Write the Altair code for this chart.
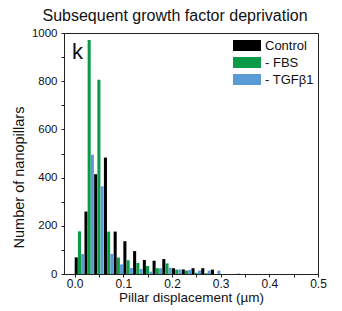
import altair as alt
import pandas as pd

bin_starts = [round(0.02 * i, 2) for i in range(17)]
series = ["Control", "- FBS", "- TGFβ1"]
control = [69, 259, 414, 483, 176, 136, 95, 58, 55, 62, 24, 19, 24, 24, 18, 0, 0]
fbs = [177, 971, 806, 176, 68, 57, 46, 33, 24, 44, 18, 14, 5, 3, 0, 0, 0]
tgf = [83, 495, 364, 83, 40, 25, 21, 10, 24, 26, 19, 17, 14, 14, 14, 0, 2]
colors = ["#000000", "#0a9a48", "#5b9bd5"]

y_ticks = list(range(0, 1001, 100))
x_ticks = [round(0.05 * i, 2) for i in range(11)]

rows = []
for k, (name, vals) in enumerate(zip(series, [control, fbs, tgf])):
    for b, v in zip(bin_starts, vals):
        x0 = b + k * 0.0066
        rows.append({"series": name, "x": x0, "x2": x0 + 0.0063, "count": v})
df = pd.DataFrame(rows)

FONT = "Liberation Sans"

bars = alt.Chart(df).mark_bar(strokeWidth=0).encode(
    x=alt.X("x:Q",
            scale=alt.Scale(domain=[-0.022, 0.5], nice=False, zero=False),
            axis=alt.Axis(values=x_ticks, title="Pillar displacement (µm)",
                          labelExpr="abs(datum.value*10 - round(datum.value*10)) < 0.01 ? format(datum.value, '.1f') : ''",
                          grid=False, tickSize=3, labelPadding=1, labelFontSize=12,
                          titleFontSize=13.5, titleFontWeight="normal", titlePadding=1,
                          labelFlush=False)),
    x2="x2:Q",
    y=alt.Y("count:Q",
            scale=alt.Scale(domain=[0, 1000], nice=False),
            axis=alt.Axis(values=y_ticks, title="Number of nanopillars",
                          labelExpr="datum.value % 200 == 0 ? format(datum.value, 'd') : ''",
                          grid=False, tickSize=3, labelPadding=4, labelFontSize=11.5,
                          titleFontSize=14.5, titleFontWeight="normal", titlePadding=5,
                          titleY=144, titleAlign="center")),
    y2=alt.datum(0),
    color=alt.Color("series:N",
                    scale=alt.Scale(domain=series, range=colors),
                    sort=series,
                    legend=alt.Legend(title=None, orient="none", legendX=173, legendY=2.5,
                                      symbolType="M-1.4,-0.55H1.4V0.55H-1.4Z",
                                      symbolSize=400, symbolStrokeWidth=0,
                                      labelFontSize=13, labelOffset=8,
                                      rowPadding=-4.5, padding=0)),
)

klabel = alt.Chart(pd.DataFrame({"t": ["k"]})).mark_text(
    font=FONT, fontSize=22, align="left", baseline="alphabetic", color="#111"
).encode(x=alt.value(8), y=alt.value(26), text="t:N")

chart = alt.layer(bars, klabel).properties(
    width=254, height=241,
    autosize=alt.AutoSizeParams(type="none"),
    padding={"left": 56, "top": 25, "right": 12, "bottom": 34},
    title=alt.TitleParams("Subsequent growth factor deprivation", fontSize=16,
                          fontWeight="normal", font=FONT, anchor="middle",
                          dx=-16, offset=3, color="#111"),
).configure_view(stroke="#222", strokeWidth=1).configure_axis(
    domainColor="#222", tickColor="#222", labelColor="#111", titleColor="#111",
    labelFont=FONT, titleFont=FONT
).configure_legend(labelFont=FONT, labelColor="#111")

chart.save("out.html", embed_options={"renderer": "svg", "actions": False})
